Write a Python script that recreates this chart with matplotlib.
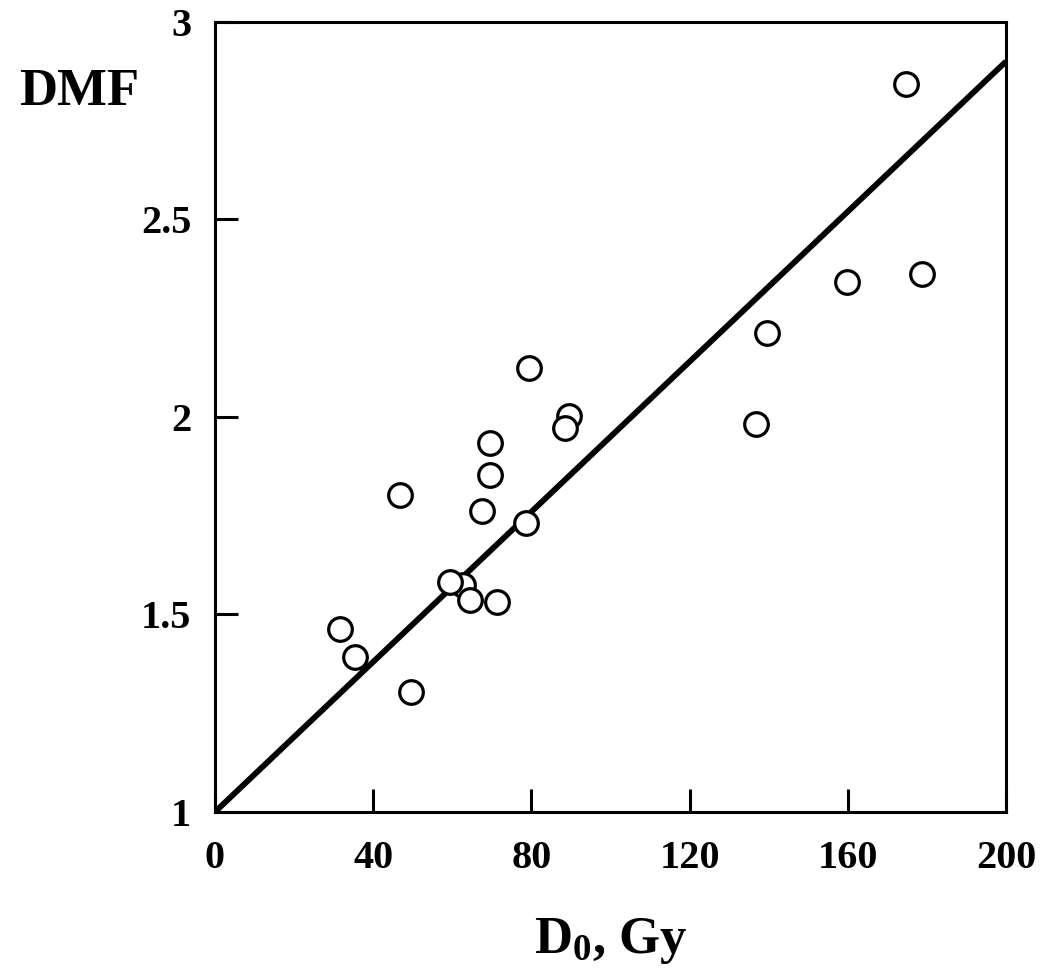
import numpy as np
import matplotlib
matplotlib.use("Agg")
import matplotlib.pyplot as plt

plt.rcParams['font.family'] = ['Liberation Serif', 'DejaVu Serif']
plt.rcParams['font.weight'] = 'bold'
plt.rcParams['mathtext.fontset'] = 'custom'
plt.rcParams['mathtext.rm'] = 'Liberation Serif:bold'
plt.rcParams['mathtext.default'] = 'rm'

# data
d0 = [62.7, 174.7, 178.7, 159.7, 139.7, 136.7, 79.5, 89.6, 88.5, 69.5,
      69.5, 67.4, 46.8, 78.6, 59.4, 64.6, 71.4, 31.6, 35.5, 49.5]
dmf = [1.575, 2.842, 2.362, 2.341, 2.212, 1.982, 2.123, 2.003, 1.971, 1.933,
       1.853, 1.763, 1.803, 1.732, 1.583, 1.537, 1.532, 1.4625, 1.392, 1.303]

fit_x = [0, 200]
fit_y = [1.0, 2.9]

x_ticks = [0, 40, 80, 120, 160, 200]
y_ticks = [1, 1.5, 2, 2.5, 3]
y_labels = ["1", "1.5", "2", "2.5", "3"]

fig = plt.figure(figsize=(10.4, 9.73), dpi=100)
ax = fig.add_axes([0.2067, 0.1655, 0.7606, 0.8119])

ax.plot(fit_x, fit_y, color='black', lw=4.2, solid_capstyle='butt', zorder=2)
ax.plot(d0, dmf, linestyle='none', marker='o', ms=17, mfc='white',
        mec='black', mew=2.3, zorder=3)

ax.set_xlim(0, 200)
ax.set_ylim(1, 3)
ax.set_xticks(x_ticks)
ax.set_yticks(y_ticks)
ax.set_yticklabels(y_labels)
ax.tick_params(direction='in', length=16.5, width=2.2, labelsize=29, pad=20,
               top=False, right=False)
ax.tick_params(axis='y', pad=17)
for s in ax.spines.values():
    s.set_linewidth(2.2)

ax.set_xlabel("D$_0$, Gy", fontsize=38, fontweight='bold', labelpad=28)
fig.text(0.018, 0.905, "DMF", fontsize=38, fontweight='bold', va='center', ha='left')

fig.savefig("out.png", dpi=100)
